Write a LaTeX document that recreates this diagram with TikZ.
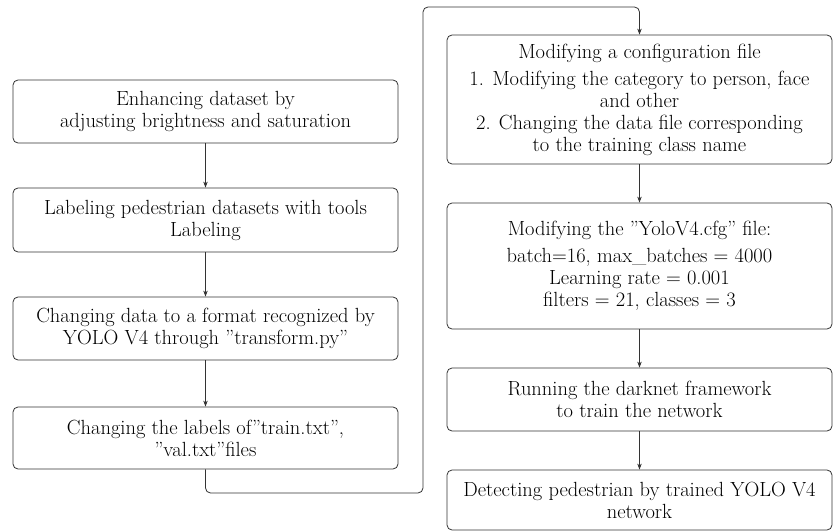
\documentclass[tikz,border=0pt]{standalone}
\usepackage{fontspec}
\usetikzlibrary{arrows.meta}
\begin{document}
\begin{tikzpicture}[x=1pt,y=-1pt,
  box/.style={draw=black!80, line width=0.8pt, rounded corners=5pt, minimum width=385pt,
    inner sep=0pt, align=center, font=\fontsize{20.5}{22}\selectfont},
  conn/.style={draw=black!80, line width=0.8pt, -{Stealth[length=6pt,width=4.5pt]}}]
\useasboundingbox (0,0) rectangle (836,532);
% left column
\node[box, minimum height=63pt] (b1) at (205.5,111.5) {Enhancing dataset by\\adjusting brightness and saturation};
\node[box, minimum height=64pt] (b2) at (205.5,220) {Labeling pedestrian datasets with tools\\Labeling};
\node[box, minimum height=63pt] (b3) at (205.5,328.5) {Changing data to a format recognized by\\YOLO V4 through ''transform.py''};
\node[box, minimum height=62pt] (b4) at (205.5,438) {Changing the labels of''train.txt'',\\''val.txt''files};
% right column
\node[box, minimum height=129pt] (b5) at (639.5,99.5) {Modifying a configuration file\\[5pt]1. Modifying the category to person, face\\and other\\2. Changing the data file corresponding\\to the training class name};
\node[box, minimum height=126pt] (b6) at (639.5,266) {Modifying the ''YoloV4.cfg'' file:\\[5pt]batch=16, max\_batches = 4000\\Learning rate = 0.001\\filters = 21, classes = 3};
\node[box, minimum height=63pt] (b7) at (639.5,399.5) {Running the darknet framework\\to train the network};
\node[box, minimum height=60pt] (b8) at (639.5,500) {Detecting pedestrian by trained YOLO V4\\network};
% connectors
\draw[conn] (b1) -- (b2);
\draw[conn] (b2) -- (b3);
\draw[conn] (b3) -- (b4);
\coordinate (c1) at (423,493);
\coordinate (c2) at (423,7);
\draw[conn, rounded corners=5pt] (b4.south) |- (c1) -- (c2) -| (b5.north);
\draw[conn] (b5) -- (b6);
\draw[conn] (b6) -- (b7);
\draw[conn] (b7) -- (b8);
\end{tikzpicture}
\end{document}
